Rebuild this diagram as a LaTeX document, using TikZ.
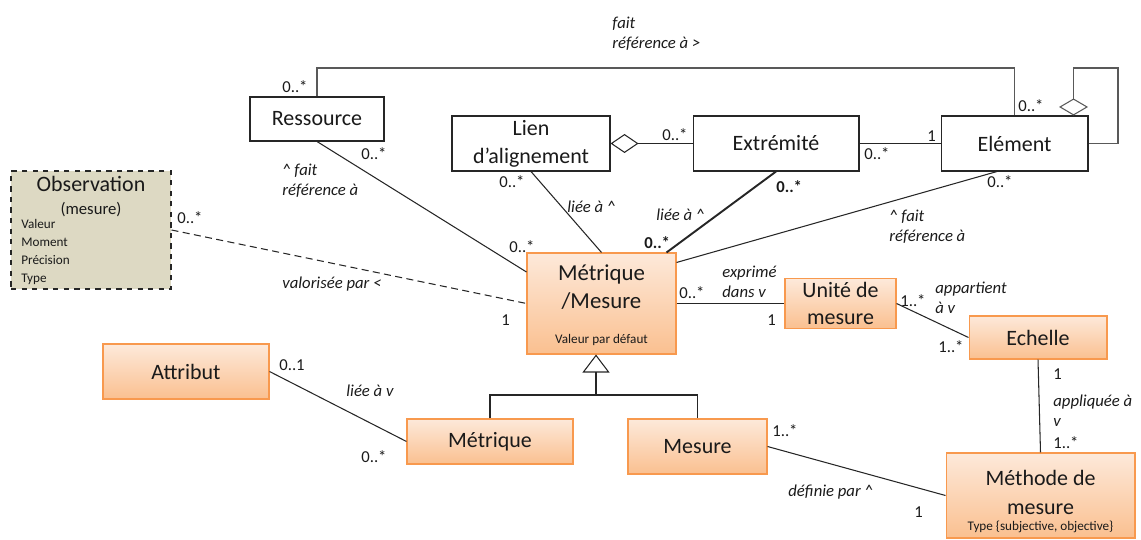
\documentclass[tikz,border=0pt]{standalone}
\usepackage{fontspec}
\setmainfont{Carlito}
\usetikzlibrary{arrows.meta}
\definecolor{ink}{HTML}{1A1A1A}
\definecolor{line}{HTML}{262626}
\definecolor{railgray}{HTML}{595959}
\definecolor{classtop}{HTML}{FDE9DA}
\definecolor{classbottom}{HTML}{FAC090}
\definecolor{classedge}{HTML}{F8994E}
\definecolor{obsfill}{HTML}{DDD9C3}

\begin{document}
\begin{tikzpicture}[
  x=0.02cm,
  y=-0.02cm,
  text=ink,
  dims/.style 2 args={minimum width=#1cm, minimum height=#2cm},
  plainbox/.style={
    draw=line,
    line width=0.6pt,
    fill=white,
    align=center,
    inner sep=2pt,
    font=\fontsize{12.5}{16}\selectfont
  },
  classbox/.style={plainbox, draw=classedge, top color=classtop, bottom color=classbottom},
  obsbox/.style={plainbox, dashed, fill=obsfill},
  title/.style={align=center, inner sep=0pt, font=\fontsize{12.5}{16.4}\selectfont},
  note/.style={align=left, inner sep=0pt, font=\fontsize{7.5}{10.2}\selectfont},
  mult/.style={anchor=west, inner sep=0pt, font=\fontsize{9.5}{11}\selectfont},
  multbold/.style={mult, font=\fontsize{9.5}{11}\selectfont\bfseries},
  role/.style={anchor=west, align=left, inner sep=0pt, font=\fontsize{9.5}{11.3}\selectfont\itshape},
  link/.style={draw=line, line width=0.6pt},
  rail/.style={draw=railgray, line width=0.6pt},
  strong/.style={draw=line, line width=1.1pt},
  dashlink/.style={link, dash pattern=on 4pt off 2.5pt},
  agg/.style={{Diamond[open, length=#1, width=0.38cm, line width=0.6pt]}-},
  gen/.style={-{Triangle[open, length=0.36cm, width=0.54cm, line width=0.6pt]}}
]
\useasboundingbox (0,0) rectangle (1141,540);

% Alignment side
\node[plainbox, dims={2.68}{0.88}] (ressource) at (317,119) {Ressource};
\node[plainbox, dims={3.16}{1.1}] (lien) at (531,143.5) {Lien\\d’alignement};
\node[plainbox, dims={3.32}{1.1}] (extremite) at (776,143.5) {Extrémité};
\node[plainbox, dims={2.94}{1.1}] (element) at (1014.5,143.5) {Elément};

\coordinate (toprail) at (0,68);
\coordinate (selfloop) at (1118,68);

\draw[rail] (ressource.north) |- (toprail -| element.north) -- (element.north);
\draw[rail, {Diamond[open, length=0.34cm, width=0.58cm, line width=0.6pt]}-] ([xshift=-0.3cm]element.north east) |- (selfloop) |- (element.east);
\draw[strong, agg=0.56cm] (lien.east) -- (extremite.west);
\draw[strong] (extremite.east) -- (element.west);

\node[role] (refelem) at (612,33.5) {fait\\référence à >};
\node[mult] (mressrail) at (282,87) {0..*};
\node[mult] (melemrail) at (1018,106) {0..*};
\node[mult] (mlienext) at (662,135) {0..*};
\node[mult] (mextelem) at (927,136) {1};
\node[mult] (melemext) at (864,154) {0..*};

% Observation
\node[obsbox, dims={3.2}{2.36}] (observation) at (91,230) {};
\node[title] (obstitle) at (91,184) {Observation};
\node[mult, anchor=center] (obskind) at (91,210) {(mesure)};
\node[note, anchor=north west] (obsattrs) at (21,219) {Valeur\\Moment\\Précision\\Type};

% Metric classes
\node[classbox, dims={2.98}{2.02}] (metmes) at (601.5,303.5) {};
\node[title, font=\fontsize{13}{16}\selectfont] (metmestitle) at (601.5,287) {Métrique\\/Mesure};
\node[note] (metmesdefault) at (601.5,340) {Valeur par défaut};
\node[classbox, dims={3.32}{1.1}] (attribut) at (186,371.5) {Attribut};
\node[classbox, dims={3.32}{0.9}] (metrique) at (490,441.5) {Métrique};
\node[classbox, dims={2.78}{1.1}] (mesure) at (697.5,446.5) {Mesure};
\node[classbox, dims={2.22}{0.98}, font=\fontsize{12.5}{15.3}\selectfont] (unite) at (840.5,303.5) {Unité de\\mesure};
\node[classbox, dims={2.76}{0.86}] (echelle) at (1038,337.5) {Echelle};
\node[classbox, dims={3.78}{1.7}] (methode) at (1040.5,495.5) {};
\node[title] (methodetitle) at (1040.5,492.5) {Méthode de\\mesure};
\node[note] (methodetype) at (1040.5,527) {Type \{subjective, objective\}};

% Links to the metric
\draw[link] (ressource.south) -- ([yshift=0.63cm]metmes.west);
\draw[link] (lien.south) -- (metmes.north);
\draw[strong] (extremite.south) -- ([xshift=-0.2cm]metmes.north east);
\draw[link] ([xshift=-0.35cm]element.south) -- ([yshift=-0.2cm]metmes.north east);
\draw[dashlink] (observation.east) -- (metmes.west);

\node[mult] (mressmet) at (361,154) {0..*};
\node[role] (refress) at (282,181) {\textasciicircum{} fait\\référence à};
\node[mult] (mmetress) at (509,247) {0..*};
\node[mult] (mlienmet) at (499,182) {0..*};
\node[role] (lielien) at (567,207) {liée à \textasciicircum};
\node[role] (lieext) at (656,215) {liée à \textasciicircum};
\node[multbold] (mextmet) at (776,187) {0..*};
\node[multbold] (mmetext) at (644,243) {0..*};
\node[mult] (melemmet) at (987,182) {0..*};
\node[role] (refelemmet) at (889,226.5) {\textasciicircum{} fait\\référence à};
\node[mult] (mobsmet) at (177,218) {0..*};
\node[role] (valobs) at (282,284) {valorisée par <};
\node[mult] (mmetobs) at (501,320) {1};

% Units, scales and methods
\draw[link] (metmes.east) -- (unite.west);
\draw[link] (unite.east) -- (echelle.west);
\draw[link] (echelle.south) -- (methode.north);
\draw[link] (attribut.east) -- (metrique.west);
\draw[link] (mesure.east) -- (methode.west);

\node[role] (exprime) at (722,281.5) {exprimé\\dans v};
\node[mult] (mmetunite) at (679,293) {0..*};
\node[mult] (munitemet) at (767,320) {1};
\node[mult] (muniteech) at (900,301) {1..*};
\node[role] (appartient) at (935,298) {appartient\\à v};
\node[mult] (mechunite) at (938,347) {1..*};
\node[mult] (mechmeth) at (1053,374) {1};
\node[role] (appliquee) at (1053,410.5) {appliquée à\\v};
\node[mult] (mmethech) at (1053,443) {1..*};
\node[mult] (mattr) at (279,365) {0..1};
\node[role] (lieattr) at (346,391) {liée à v};
\node[mult] (mmetattr) at (361,457) {0..*};
\node[mult] (mmesmeth) at (772,431) {1..*};
\node[role] (definie) at (788,492) {définie par \textasciicircum};
\node[mult] (mmethmes) at (914,512) {1};

% Generalization
\coordinate (genjoin) at (596,395);
\draw[link] (metrique.north) |- (genjoin) -| (mesure.north);
\draw[link, line width=1.1pt, gen] (genjoin) -- (genjoin |- metmes.south);

\end{tikzpicture}
\end{document}
